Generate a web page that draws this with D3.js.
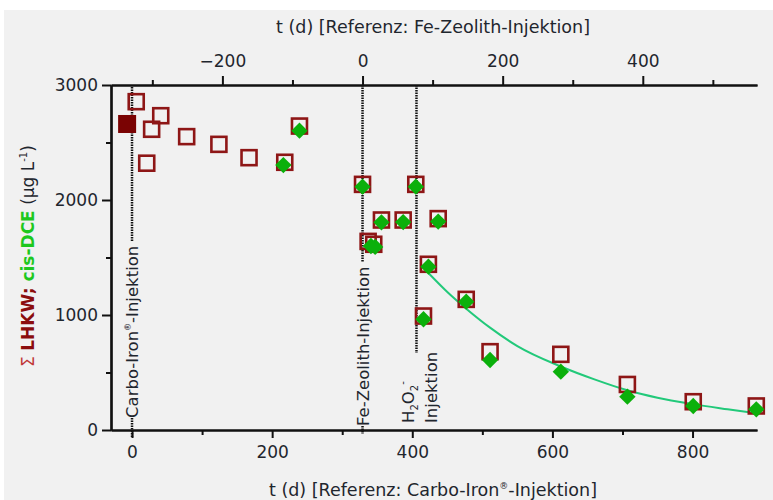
<!DOCTYPE html>
<html>
<head>
<meta charset="utf-8">
<script src="https://cdn.jsdelivr.net/npm/d3@7"></script>
<style>
  body { margin: 0; background: #fff; }
  svg { display: block; font-family: "DejaVu Sans", sans-serif; }
</style>
</head>
<body>
<div id="chart"></div>
<script>
// Sigma LHKW (open squares), days since Carbo-Iron injection
let lhkwDays = [6, 21, 28, 41, 78, 124, 167, 218, 239, 329, 337, 345, 356, 387, 405, 416, 423, 437, 477, 511, 612, 707, 801, 891];
let lhkwValues = [2855, 2320, 2615, 2733, 2551, 2484, 2368, 2328, 2643, 2136, 1640, 1615, 1826, 1826, 2136, 991, 1441, 1838, 1136, 681, 658, 396, 246, 209];

// baseline sample (filled square)
let baseDays = [-7];
let baseValues = [2661];

// cis-DCE (green diamonds)
let dceDays = [216, 239, 329, 341, 347, 356, 387, 405, 416, 423, 437, 477, 511, 612, 707, 801, 891];
let dceValues = [2304, 2603, 2116, 1600, 1592, 1806, 1808, 2116, 963, 1420, 1812, 1116, 609, 507, 290, 209, 180];

// fitted decay curve after H2O2 injection
let fitDays = [423, 450, 477, 511, 550, 612, 660, 707, 750, 800, 850, 891];
let fitValues = [1365, 1200, 1055, 890, 730, 552, 440, 345, 280, 225, 180, 145];

// injection days (Carbo-Iron, Fe-Zeolith, H2O2)
let eventDays = [0, 329, 406];

let bottomTicks = [0, 200, 400, 600, 800];
let bottomMinor = [100, 300, 500, 700];
let topTicks = [-200, 0, 200, 400];
let topMinor = [-300, -100, 100, 300, 500];
let leftTicks = [0, 1000, 2000, 3000];
let leftMinor = [500, 1500, 2500];

let zeolithOffset = eventDays[1];

let W = 773, H = 500;
let txt = "#1f262e";
let svg = d3.select("#chart").append("svg")
    .attr("width", W)
    .attr("height", H);

svg.append("rect")
    .attr("x", 4).attr("y", 10)
    .attr("width", W - 4).attr("height", H - 10)
    .attr("fill", "#f1f1f1");

let margin = { left: 111, right: 16, top: 85, bottom: 70 };

let xScale = d3.scaleLinear().domain([-30, 892]).range([margin.left, W - margin.right]);
let xTop = d3.scaleLinear().domain([-30 - zeolithOffset, 892 - zeolithOffset]).range([margin.left, W - margin.right]);
let yScale = d3.scaleLinear().domain([0, 3000]).range([H - margin.bottom, margin.top]);

let y0 = yScale(0), y1 = yScale(3000);

/* Axes */
function styleAxis(sel) {
    sel.selectAll("path.domain").attr("stroke", "#111").attr("stroke-width", 2.2);
    sel.selectAll(".tick line").attr("stroke", "#111").attr("stroke-width", 2);
    sel.selectAll(".tick text").attr("fill", txt).attr("font-size", "17px")
        .attr("font-family", "DejaVu Sans");
}

svg.append("g")
    .attr("transform", `translate(0, ${y0})`)
    .call(d3.axisBottom(xScale).tickValues(bottomMinor).tickFormat("").tickSize(5).tickSizeOuter(0))
    .call(styleAxis);
svg.append("g")
    .attr("transform", `translate(0, ${y0})`)
    .call(d3.axisBottom(xScale).tickValues(bottomTicks).tickFormat(d3.format("d")).tickSize(8).tickPadding(8).tickSizeOuter(0))
    .call(styleAxis);

svg.append("g")
    .attr("transform", `translate(0, ${y1})`)
    .call(d3.axisTop(xTop).tickValues(topMinor).tickFormat("").tickSize(5).tickSizeOuter(0))
    .call(styleAxis);
svg.append("g")
    .attr("transform", `translate(0, ${y1})`)
    .call(d3.axisTop(xTop).tickValues(topTicks).tickFormat(d3.format("d")).tickSize(9).tickPadding(9).tickSizeOuter(0))
    .call(styleAxis);

svg.append("g")
    .attr("transform", `translate(${margin.left}, 0)`)
    .call(d3.axisLeft(yScale).tickValues(leftMinor).tickFormat("").tickSize(5).tickSizeOuter(0))
    .call(styleAxis);
svg.append("g")
    .attr("transform", `translate(${margin.left}, 0)`)
    .call(d3.axisLeft(yScale).tickValues(leftTicks).tickFormat(d3.format("d")).tickSize(9).tickPadding(4).tickSizeOuter(0))
    .call(styleAxis);

/* Axis titles */
svg.append("text")
    .attr("x", 433).attr("y", 33)
    .attr("text-anchor", "middle")
    .attr("font-size", "17.5px")
    .attr("fill", txt)
    .text("t (d) [Referenz: Fe-Zeolith-Injektion]");

let bt = svg.append("text")
    .attr("x", 433).attr("y", 496)
    .attr("text-anchor", "middle")
    .attr("font-size", "17.5px")
    .attr("fill", txt);
bt.append("tspan").text("t (d) [Referenz: Carbo-Iron");
bt.append("tspan").attr("font-size", "9px").attr("dy", -7).text("®");
bt.append("tspan").attr("dy", 7).text("-Injektion]");

let yl = svg.append("text")
    .attr("transform", `translate(34, 256) rotate(-90)`)
    .attr("text-anchor", "middle")
    .attr("font-size", "17px");
yl.append("tspan").attr("fill", "#c03838").text("Σ ");
yl.append("tspan").attr("fill", "#8b0d0d").attr("font-weight", "bold").text("LHKW; ");
yl.append("tspan").attr("fill", "#1ec81e").attr("font-weight", "bold").text("cis-DCE");
yl.append("tspan").attr("fill", txt).text(" (µg L");
yl.append("tspan").attr("fill", txt).attr("font-size", "10px").attr("dy", -7).text("-1");
yl.append("tspan").attr("fill", txt).attr("dy", 7).text(")");

/* Injection lines */
let dotted = svg.append("g");
function vline(x, ya, yb) {
    dotted.append("line")
        .attr("x1", x).attr("x2", x)
        .attr("y1", ya).attr("y2", yb)
        .attr("stroke", "#111")
        .attr("stroke-width", 2.5)
        .attr("stroke-dasharray", "1.5,1");
}

let xc = xScale(eventDays[0]);
vline(xc, y1 + 2, 241);
vline(xc, 418, y0 + 8);
let ci = svg.append("text")
    .attr("transform", `translate(${xc + 6}, 418) rotate(-90)`)
    .attr("font-size", "16.5px")
    .attr("fill", txt);
ci.append("tspan").text("Carbo-Iron");
ci.append("tspan").attr("font-size", "8px").attr("dy", -7).text("®");
ci.append("tspan").attr("dy", 7).text("-Injektion");

let xf = xScale(eventDays[1]);
vline(xf, y1, 262);
vline(xf, 426, y0 + 4);
svg.append("text")
    .attr("transform", `translate(${xf + 6}, 426) rotate(-90)`)
    .attr("font-size", "16.5px")
    .attr("fill", txt)
    .text("Fe-Zeolith-Injektion");

let xh = xScale(eventDays[2]);
vline(xh, y1, 353);
let h1 = svg.append("text")
    .attr("transform", `translate(${xh - 2}, 423) rotate(-90)`)
    .attr("font-size", "16.5px")
    .attr("fill", txt);
h1.append("tspan").text("H");
h1.append("tspan").attr("font-size", "10px").attr("dy", 4).text("2");
h1.append("tspan").attr("dy", -4).text("O");
h1.append("tspan").attr("font-size", "10px").attr("dy", 4).text("2");
h1.append("tspan").attr("font-size", "10px").attr("dy", -12).text("-");
svg.append("text")
    .attr("transform", `translate(${xh + 21}, 423) rotate(-90)`)
    .attr("font-size", "16.5px")
    .attr("fill", txt)
    .text("Injektion");

/* Fit curve */
let fitLine = d3.line()
    .x(d => xScale(d[0]))
    .y(d => yScale(d[1]))
    .curve(d3.curveMonotoneX);

svg.append("path")
    .datum(d3.zip(fitDays, fitValues))
    .attr("d", fitLine)
    .attr("fill", "none")
    .attr("stroke", "#22c97a")
    .attr("stroke-width", 2);

/* Squares */
let sq = 15;
svg.append("g").selectAll("rect")
    .data(d3.zip(lhkwDays, lhkwValues))
    .enter()
    .append("rect")
    .attr("x", d => xScale(d[0]) - sq / 2)
    .attr("y", d => yScale(d[1]) - sq / 2)
    .attr("width", sq)
    .attr("height", sq)
    .attr("fill", "none")
    .attr("stroke", "#8e1616")
    .attr("stroke-width", 2.6);

svg.append("g").selectAll("rect")
    .data(d3.zip(baseDays, baseValues))
    .enter()
    .append("rect")
    .attr("x", d => xScale(d[0]) - 9)
    .attr("y", d => yScale(d[1]) - 9)
    .attr("width", 18)
    .attr("height", 18)
    .attr("fill", "#7a0303");

/* Diamonds */
let diamond = d3.symbol().type(d3.symbolDiamond2).size(170);
svg.append("g").selectAll("path")
    .data(d3.zip(dceDays, dceValues))
    .enter()
    .append("path")
    .attr("d", diamond)
    .attr("transform", d => `translate(${xScale(d[0])}, ${yScale(d[1])})`)
    .attr("fill", "#0bb00b");
</script>
</body>
</html>
